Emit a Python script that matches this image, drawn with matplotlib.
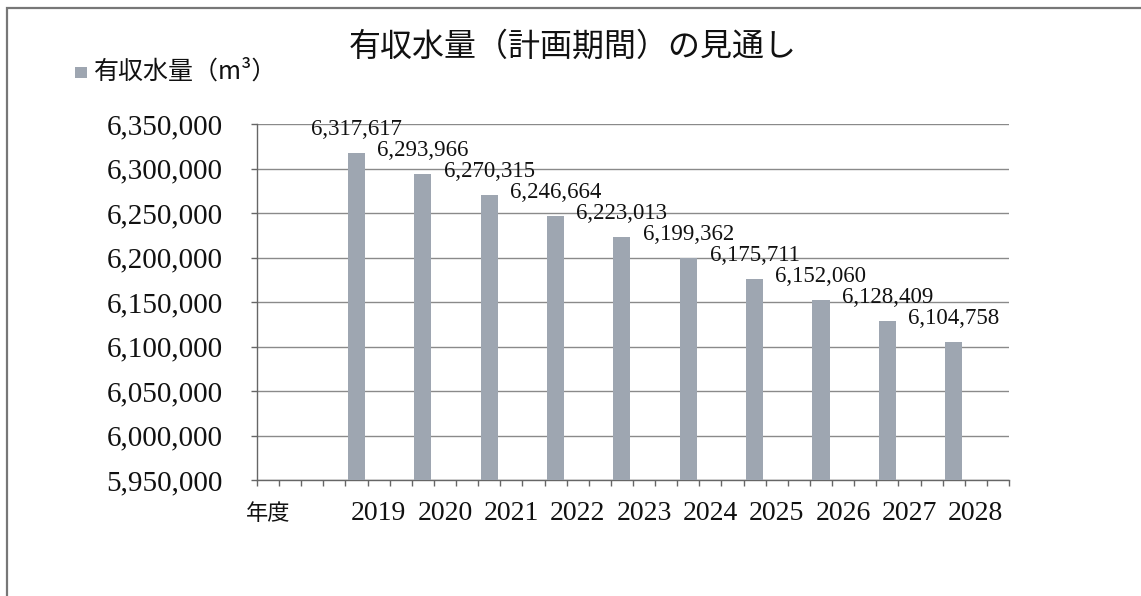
import matplotlib
matplotlib.use("Agg")
import matplotlib.pyplot as plt
from matplotlib.patches import Rectangle
from matplotlib.ticker import FuncFormatter, MultipleLocator

years = ["2019", "2020", "2021", "2022", "2023", "2024", "2025", "2026", "2027", "2028"]
values = [6317617, 6293966, 6270315, 6246664, 6223013, 6199362, 6175711, 6152060, 6128409, 6104758]
title = "有収水量（計画期間）の見通し"
series_name = "有収水量（m³）"
x_axis_label = "年度"

JP = ["Noto Sans CJK JP", "DejaVu Sans"]
NUM = ["Liberation Serif"]
BAR = "#9ea6b1"

W, H = 1141, 596
fig = plt.figure(figsize=(W / 100, H / 100), dpi=100)
fig.patch.set_facecolor("white")

# outer frame
fig.patches.append(Rectangle((7 / W, -0.02), 1.05, 1 - 8 / H + 0.02, transform=fig.transFigure,
                             fill=False, edgecolor="#777777", linewidth=1.6))

left, right, top, bottom = 257, 1009, 124, 480
ax = fig.add_axes([left / W, 1 - bottom / H, (right - left) / W, (bottom - top) / H])

n_slots = 34
first_slot, step = 4, 3
pos = [first_slot + step * i + 0.5 for i in range(len(years))]

ax.bar(pos, values, width=0.77, color=BAR, zorder=3)
ax.set_xlim(0, n_slots)
ax.set_ylim(5950000, 6350000)
ax.yaxis.set_major_locator(MultipleLocator(50000))
ax.yaxis.set_major_formatter(FuncFormatter(lambda v, p: f"{int(round(v)):,}"))
ax.grid(axis="y", color="#8a8a8a", linewidth=1.0, zorder=0)
ax.set_xticks(range(0, n_slots + 1))
ax.set_xticklabels([])
ax.tick_params(axis="x", direction="out", length=4.5, width=1, color="#666666")
ax.tick_params(axis="y", direction="out", length=4.5, width=1, color="#666666", pad=20,
               labelsize=21, labelcolor="#111111")
for lab in ax.get_yticklabels():
    lab.set_fontfamily(NUM)
for s in ["top", "right"]:
    ax.spines[s].set_visible(False)
for s in ["left", "bottom"]:
    ax.spines[s].set_color("#666666")
    ax.spines[s].set_linewidth(1.0)

# year labels (shifted one slot right of bars, as in the reference)
for p, y in zip(pos, years):
    ax.text(p + 1, -0.095, y, transform=ax.get_xaxis_transform(), ha="center", va="center",
            fontsize=20, family=NUM, color="#111111")
ax.text(0.5, -0.095, x_axis_label, transform=ax.get_xaxis_transform(), ha="center", va="center",
        fontsize=16, family=JP, color="#111111")

# data labels
for p, v in zip(pos, values):
    ax.annotate(f"{v:,}", (p, v), xytext=(0, 17), textcoords="offset points",
                ha="center", va="center", fontsize=16.5, family=NUM, color="#111111",
                annotation_clip=False, zorder=4)

fig.text(573 / W, 1 - 47 / H, title, ha="center", va="center", fontsize=23, family=JP, color="#111111")

fig.patches.append(Rectangle((75 / W, 1 - 78 / H), 12 / W, 11 / H, transform=fig.transFigure,
                             facecolor=BAR, edgecolor="none"))
fig.text(94 / W, 1 - 72 / H, series_name, ha="left", va="center", fontsize=18, family=JP, color="#111111")

fig.savefig("out.png", dpi=100)
